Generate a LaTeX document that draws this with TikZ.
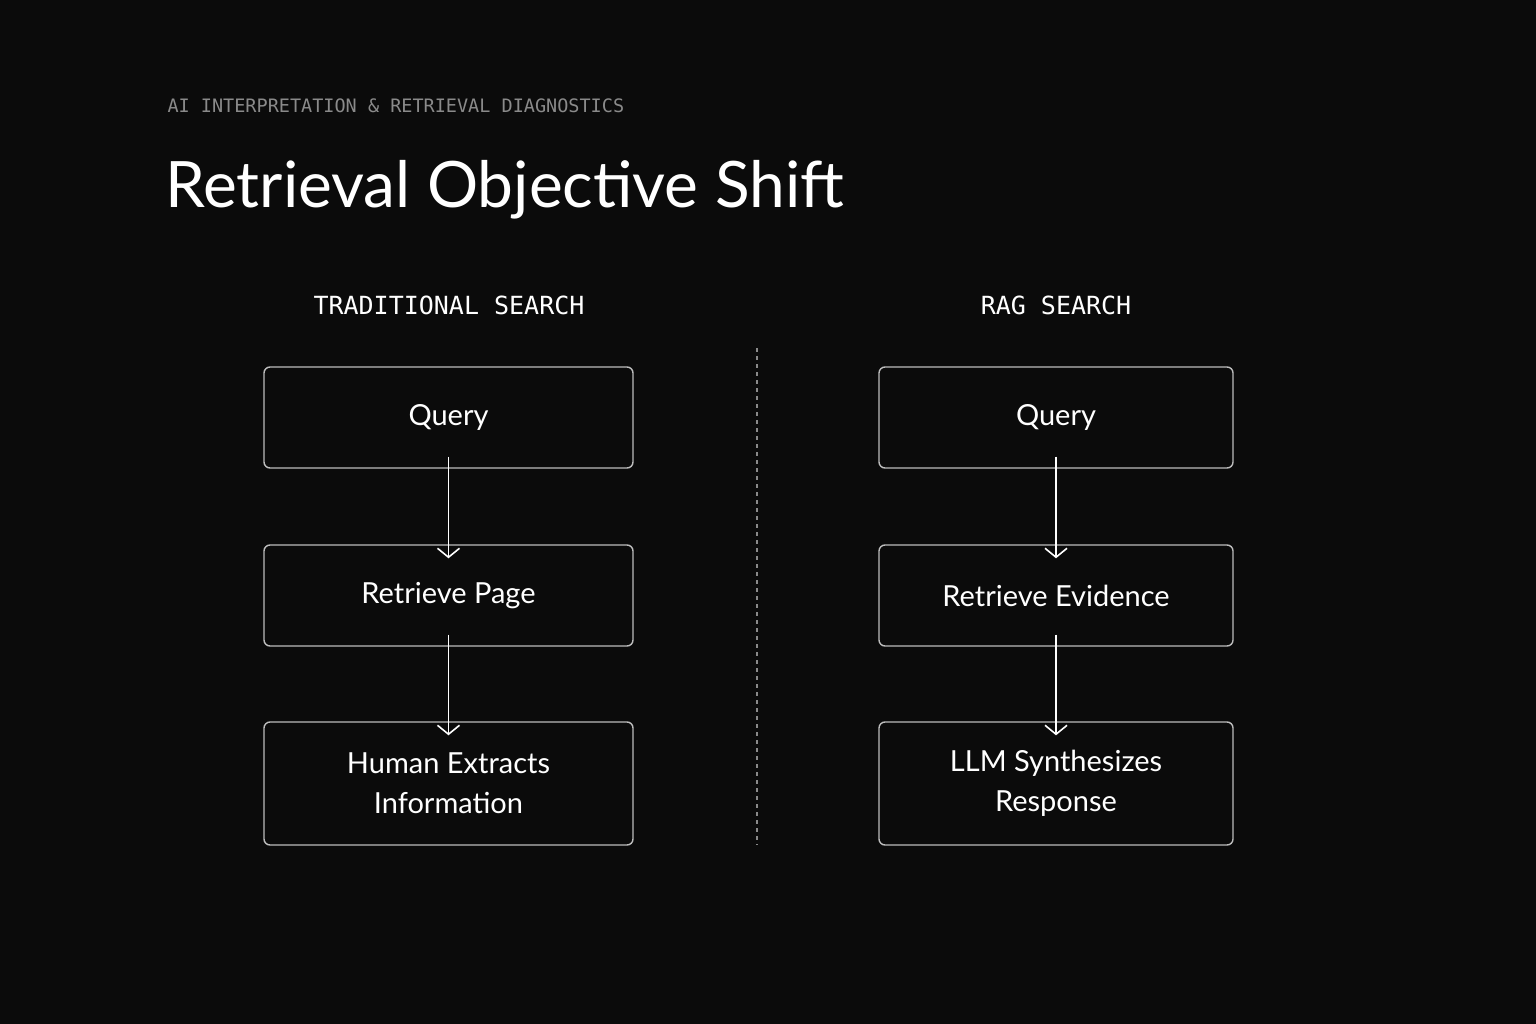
\documentclass[tikz,border=0pt]{standalone}
\usepackage{fontspec}
\setmainfont{Lato}
\newfontfamily\monof{DejaVu Sans Mono}
\usetikzlibrary{arrows.meta}
\definecolor{bg}{HTML}{0B0B0B}
\definecolor{boxline}{HTML}{BDBDBD}
\definecolor{graytxt}{HTML}{8A8A8A}
\begin{document}
\begin{tikzpicture}[x=1pt,y=-1pt,
  flowbox/.style={draw=boxline, line width=1.4pt, rounded corners=6pt, text=white, align=center, font=\fontsize{29}{40}\selectfont, inner sep=0pt},
  flowarrow/.style={draw=white, line width=1.6pt, -{Straight Barb[length=9pt,width=22pt,line width=1.6pt]}},
  header/.style={text=white, font=\monof\fontsize{25}{30}\selectfont}]
\fill[bg] (0,0) rectangle (1536,1024);
\useasboundingbox (0,0) rectangle (1536,1024);
\node[anchor=west, text=graytxt, font=\monof\fontsize{18.5}{22}\selectfont] (kicker) at (164,106) {AI INTERPRETATION \& RETRIEVAL DIAGNOSTICS};
\node[anchor=base west, text=white, font=\fontsize{64}{70}\selectfont, inner sep=0pt] (title) at (165,208) {Retrieval Objective Shift};
\node[header] (h1) at (449,305) {TRADITIONAL SEARCH};
\node[header] (h2) at (1056,305) {RAG SEARCH};
\coordinate (d1) at (757,348);
\coordinate (d2) at (757,845);
\draw[graytxt, line width=1.2pt, dash pattern=on 4pt off 4pt] (d1) -- (d2);
\node[flowbox, minimum width=369, minimum height=101] (l1) at (448.5,417.5) {Query};
\node[flowbox, minimum width=369, minimum height=101] (l2) at (448.5,595.5) {Retrieve Page};
\node[flowbox, minimum width=369, minimum height=123] (l3) at (448.5,783.5) {Human Extracts\\Information};
\node[flowbox, minimum width=354, minimum height=101] (r1) at (1056,417.5) {Query};
\node[flowbox, minimum width=354, minimum height=101] (r2) at (1056,595.5) {Retrieve Evidence};
\node[flowbox, minimum width=354, minimum height=123] (r3) at (1056,783.5) {LLM Synthesizes\\Response};
\draw[flowarrow] ([yshift=12]l1.south) -- ([yshift=-14]l2.north);
\draw[flowarrow] ([yshift=12]l2.south) -- ([yshift=-14]l3.north);
\draw[flowarrow] ([yshift=12]r1.south) -- ([yshift=-14]r2.north);
\draw[flowarrow] ([yshift=12]r2.south) -- ([yshift=-14]r3.north);
\end{tikzpicture}
\end{document}
